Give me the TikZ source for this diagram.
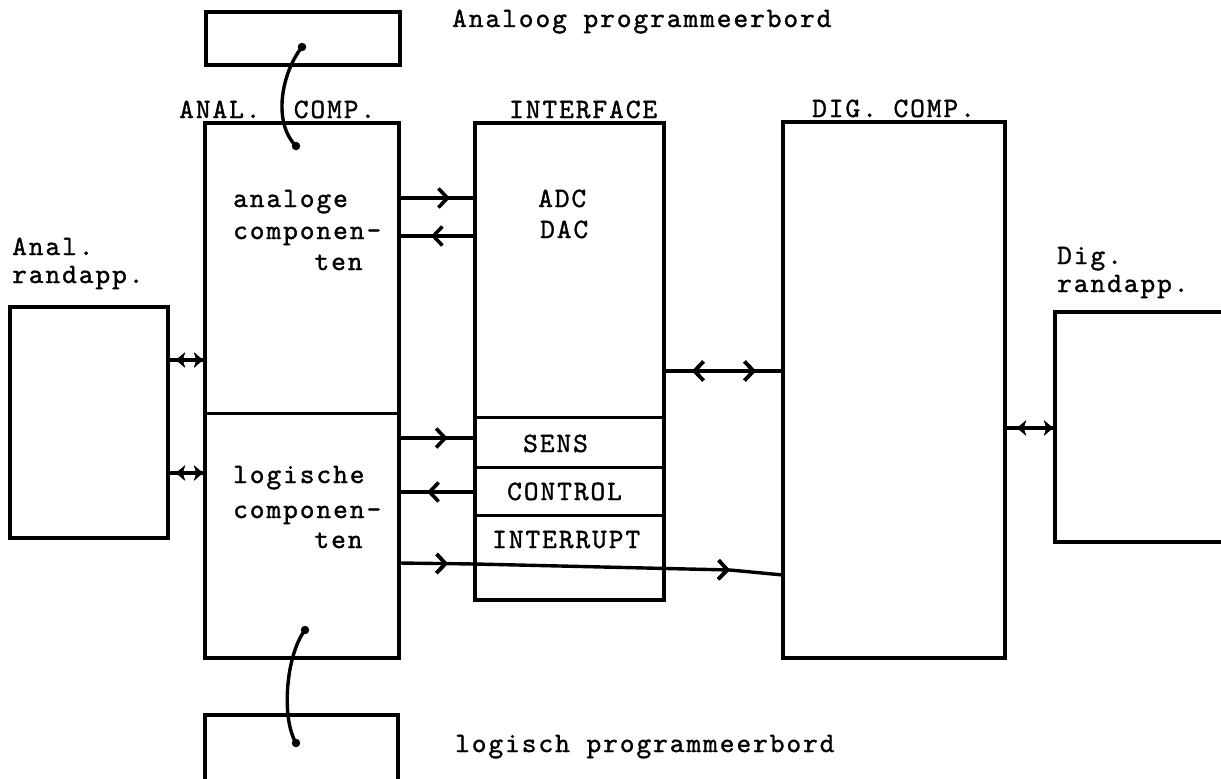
\documentclass[tikz,border=0pt]{standalone}
\usepackage{fontspec}
\newfontfamily\tw{lmmono10-regular.otf}[LetterSpace=7,FakeBold=1.2]
\usetikzlibrary{arrows.meta,decorations.markings}
\tikzset{
  box/.style={draw, line width=3.2pt, rectangle, inner sep=0pt, outer sep=0pt, anchor=north west},
  divline/.style={line width=3pt},
  conn/.style={line width=3.4pt},
  lbl/.style={anchor=base west, inner sep=0pt, font=\tw\fontsize{28}{32}\selectfont},
  tipf/.style={postaction={decorate}, decoration={markings, mark=at position #1 with {\arrow{Straight Barb[length=9pt,width=19pt,line width=3.6pt]}}}},
  tipb/.style={postaction={decorate}, decoration={markings, mark=at position #1 with {\arrowreversed{Straight Barb[length=9pt,width=19pt,line width=3.6pt]}}}},
  stipf/.style={postaction={decorate}, decoration={markings, mark=at position #1 with {\arrow{Stealth[length=9pt,width=15pt,inset=2.5pt]}}}},
  stipb/.style={postaction={decorate}, decoration={markings, mark=at position #1 with {\arrowreversed{Stealth[length=9pt,width=15pt,inset=2.5pt]}}}},
  curve/.style={line width=3.4pt},
  dot/.style={circle, fill, inner sep=0pt, minimum size=8.5pt}
}
\begin{document}
\begin{tikzpicture}[x=1pt,y=-1pt]
\useasboundingbox (0,0) rectangle (1221,779);
\clip (0,0) rectangle (1221,779);
\fill[white] (0,0) rectangle (1221,779);

% boxes
\node[box, minimum width=194pt, minimum height=53pt] (pa) at (206,12) {};
\node[box, minimum width=194pt, minimum height=535pt] (ac) at (205,123) {};
\node[box, minimum width=189pt, minimum height=477pt] (if) at (475,123) {};
\node[box, minimum width=222pt, minimum height=536pt] (dc) at (783,122) {};
\node[box, minimum width=158pt, minimum height=231pt] (ar) at (10,307) {};
\node[box, minimum width=220pt, minimum height=230pt] (dr) at (1055,312) {};
\node[box, minimum width=193pt, minimum height=100pt] (pl) at (205,715) {};

% dividers
\draw[divline] (ac.west |- 0,413) -- (ac.east |- 0,413);
\draw[divline] (if.west |- 0,417) -- (if.east |- 0,417);
\draw[divline] (if.west |- 0,467) -- (if.east |- 0,467);
\draw[divline] (if.west |- 0,515) -- (if.east |- 0,515);

% labels
\node[lbl] (tpa) at (452,27) {Analoog programmeerbord};
\node[lbl] (tac) at (179,118) {ANAL.~~COMP.};
\node[lbl] (tif) at (509,118) {INTERFACE};
\node[lbl] (tdc) at (812,117) {DIG. COMP.};
\node[lbl] (tar1) at (12,255) {Anal.};
\node[lbl] (tar2) at (12,283) {randapp.};
\node[lbl] (tdr1) at (1057,264) {Dig.};
\node[lbl] (tdr2) at (1057,292) {randapp.};
\node[lbl] (ta1) at (233,207) {analoge};
\node[lbl] (ta2) at (233,239) {componen-};
\node[lbl] (ta3) at (233,270) {\phantom{compo}ten};
\node[lbl] (tl1) at (233,483) {logische};
\node[lbl] (tl2) at (233,518) {componen-};
\node[lbl] (tl3) at (233,548) {\phantom{compo}ten};
\node[lbl] (tadc) at (538,207) {ADC};
\node[lbl] (tdac) at (540,238) {DAC};
\node[lbl] (tsens) at (523,452) {SENS};
\node[lbl] (tctl) at (507,500) {CONTROL};
\node[lbl] (tint) at (492,548) {INTERRUPT};
\node[lbl] (tpl) at (455,752) {logisch programmeerbord};

% connectors anal comp <-> interface
\draw[conn, tipf=0.67] (ac.east |- 0,198) -- (if.west |- 0,198);
\draw[conn, tipf=0.58] (if.west |- 0,236) -- (ac.east |- 0,236);
\draw[conn, tipf=0.64] (ac.east |- 0,438) -- (if.west |- 0,438);
\draw[conn, tipf=0.63] (if.west |- 0,492) -- (ac.east |- 0,492);
\coordinate (k1) at (475,564);
\coordinate (k2) at (730,570);
\draw[conn, tipf=49pt, tipf=331pt] (ac.east |- 0,563) -- (k1) -- (k2) -- (dc.west |- 0,575);

% interface <-> dig comp
\draw[conn, tipb=28pt, tipf=92pt] (if.east |- 0,371) -- (dc.west |- 0,371);

% randapp connections
\draw[conn, stipb=8pt, stipf=35pt] (ar.east |- 0,360) -- (ac.west |- 0,360);
\draw[conn, stipb=8pt, stipf=35pt] (ar.east |- 0,473) -- (ac.west |- 0,473);
\draw[conn, stipb=12pt, stipf=48pt] (dc.east |- 0,428) -- (dr.west |- 0,428);

% program board plugs
\coordinate (c1) at (302,47);
\coordinate (c2) at (296,146);
\coordinate (c3) at (305,630);
\coordinate (c4) at (296,743);
\draw[curve] (c1) .. controls (282,72) and (272,122) .. (c2);
\draw[curve] (c3) .. controls (286,655) and (281,718) .. (c4);
\node[dot] (d1) at (c1) {};
\node[dot] (d2) at (c2) {};
\node[dot] (d3) at (c3) {};
\node[dot] (d4) at (c4) {};
\end{tikzpicture}
\end{document}
